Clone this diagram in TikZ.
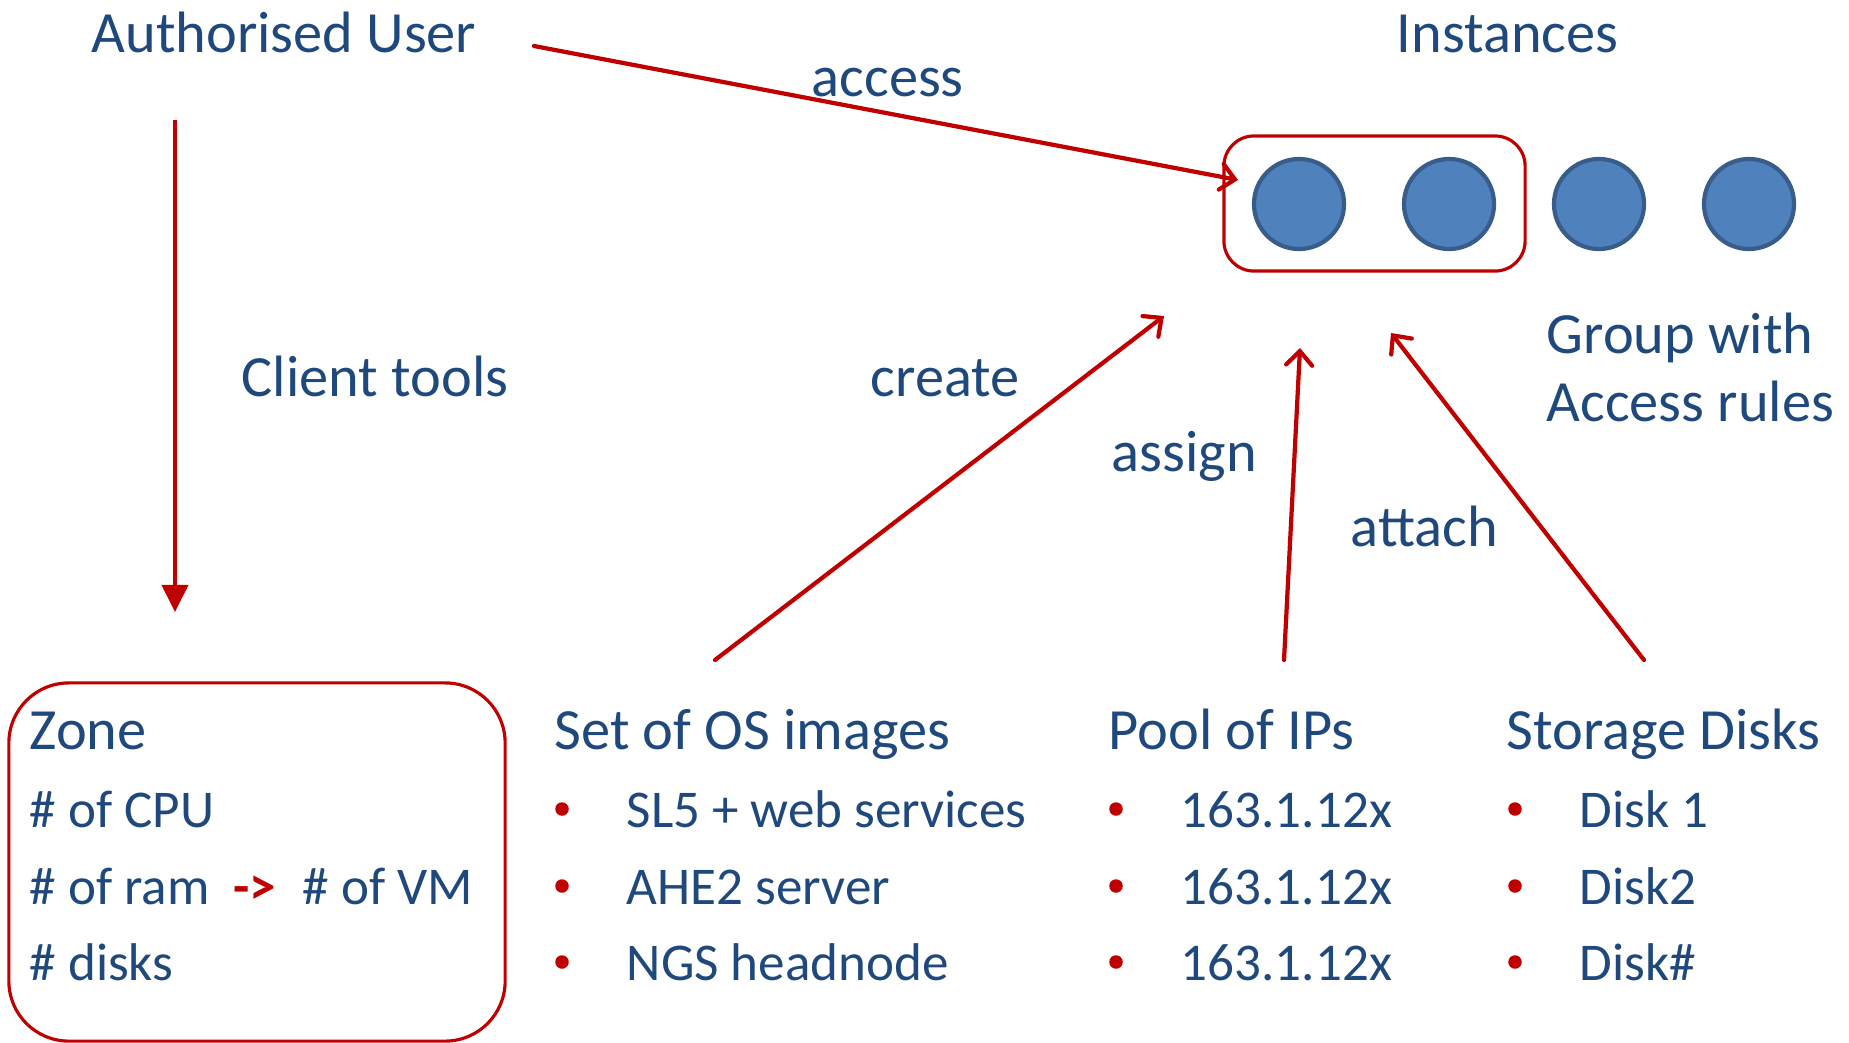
\documentclass[tikz,border=0pt]{standalone}
\usepackage{fontspec}
\setmainfont{Carlito}
\usetikzlibrary{arrows.meta}
\definecolor{txtblue}{HTML}{1F497D}
\definecolor{dred}{HTML}{C00000}
\definecolor{cfill}{HTML}{4F81BD}
\definecolor{cline}{HTML}{385D8A}
\begin{document}
\begin{tikzpicture}[x=0.01cm,y=-0.01cm,
  lbl/.style={text=txtblue,font=\fontsize{16.6}{20}\selectfont,inner sep=0,anchor=base west},
  item/.style={text=txtblue,font=\fontsize{15.1}{18}\selectfont,inner sep=0,anchor=base west},
  conn/.style={draw=dred,line width=1.2pt,line cap=round,-{Straight Barb[length=0.14cm,width=0.26cm,line cap=round]}},
  downconn/.style={draw=dred,line width=1.1pt,-{Triangle[length=0.27cm,width=0.26cm]}},
  inst/.style={circle,fill=cfill,draw=cline,line width=1.2pt,minimum size=0.9cm,inner sep=0},
  redbox/.style={draw=dred,line width=0.9pt},
  bul/.style={circle,fill=dred,inner sep=0,minimum size=0.135cm}
]
\useasboundingbox (0,0) rectangle (1849,1042);

% top labels
\node[lbl] (user) at (91,52) {Authorised User};
\node[lbl] (insttitle) at (1396,52) {Instances};
\node[lbl] (access) at (811,96) {access};
\node[lbl] (client) at (241,396) {Client tools};
\node[lbl] (create) at (870,396) {create};
\node[lbl] (assign) at (1111,471) {assign};
\node[lbl] (attach) at (1350,546) {attach};
\node[lbl] (group1) at (1546,353) {Group with};
\node[lbl] (group2) at (1546,421) {Access rules};

% instances
\node[redbox,rounded corners=0.3cm,minimum width=3.01cm,minimum height=1.35cm] (grp) at (1374.5,203.5) {};
\node[inst] (c1) at (1299,204) {};
\node[inst] (c2) at (1449,204) {};
\node[inst] (c3) at (1599,204) {};
\node[inst] (c4) at (1749,204) {};

% zone box
\node[redbox,rounded corners=0.6cm,minimum width=4.96cm,minimum height=3.58cm] (zone) at (257,862) {};
\node[lbl] (zt) at (29,749) {Zone};
\node[item] (z1) at (29,827) {\# of CPU};
\node[item] (z2) at (29,904) {\# of ram};
\node[item,text=dred,font=\fontsize{15.1}{18}\selectfont\bfseries] (z2a) at (233,904) {->};
\node[item] (z2b) at (302,904) {\# of VM};
\node[item] (z3) at (29,980) {\# disks};

% OS images
\node[lbl] (os) at (554,749) {Set of OS images};
\node[bul] (ob1) at (562,809) {};
\node[bul] (ob2) at (562,886) {};
\node[bul] (ob3) at (562,962) {};
\node[item] (o1) at (626,827) {SL5 + web services};
\node[item] (o2) at (626,904) {AHE2 server};
\node[item] (o3) at (626,980) {NGS headnode};

% IPs
\node[lbl] (pool) at (1108,749) {Pool of IPs};
\node[bul] (pb1) at (1116,809) {};
\node[bul] (pb2) at (1116,886) {};
\node[bul] (pb3) at (1116,962) {};
\node[item] (p1) at (1180,827) {163.1.12x};
\node[item] (p2) at (1180,904) {163.1.12x};
\node[item] (p3) at (1180,980) {163.1.12x};

% disks
\node[lbl] (disk) at (1506,749) {Storage Disks};
\node[bul] (db1) at (1515,809) {};
\node[bul] (db2) at (1515,886) {};
\node[bul] (db3) at (1515,962) {};
\node[item] (d1) at (1579,827) {Disk 1};
\node[item] (d2) at (1579,904) {Disk2};
\node[item] (d3) at (1579,980) {Disk\#};

% connectors
\coordinate (accS) at (534,46);
\coordinate (accE) at (1238,180);
\draw[conn] (accS) -- (accE);
\coordinate (ctS) at (175,120);
\coordinate (ctE) at (175,612);
\draw[downconn] (ctS) -- (ctE);
\coordinate (crS) at (715,660);
\coordinate (crE) at (1164,316);
\draw[conn] (crS) -- (crE);
\coordinate (asS) at (1284,660);
\coordinate (asE) at (1300,348);
\draw[conn] (asS) -- (asE);
\coordinate (atS) at (1644,660);
\coordinate (atE) at (1391,333);
\draw[conn] (atS) -- (atE);
\end{tikzpicture}
\end{document}
